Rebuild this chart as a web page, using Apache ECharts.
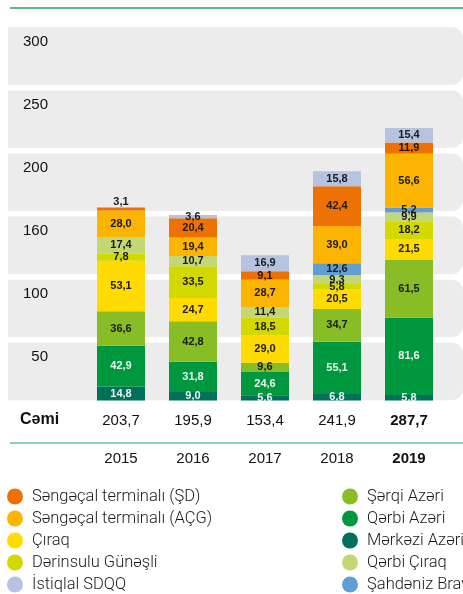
<!DOCTYPE html>
<html lang="az">
<head>
    <meta charset="utf-8">
    <title>Hasilat</title>
    <script src="https://cdn.jsdelivr.net/npm/echarts@6/dist/echarts.min.js"></script>
    <style>
        html, body { margin: 0; padding: 0; background: #fff; }
        #main { width: 463px; height: 594px; }
    </style>
</head>
<body>
<div id="main"></div>

<script type="text/javascript">
    // data
    var years = ['2015', '2016', '2017', '2018', '2019'];
    var totals = [203.7, 195.9, 153.4, 241.9, 287.7];
    var bandLabels = ['50', '100', '160', '200', '250', '300'];

    var merkeziAzeri  = [14.8, 9.0, 5.6, 6.8, 5.8];
    var qerbiAzeri    = [42.9, 31.8, 24.6, 55.1, 81.6];
    var serqiAzeri    = [36.6, 42.8, 9.6, 34.7, 61.5];
    var ciraq         = [53.1, 24.7, 29.0, 20.5, 21.5];
    var derinsulu     = [7.8, 33.5, 18.5, 5.8, 18.2];
    var qerbiCiraq    = [17.4, 10.7, 11.4, 9.3, 9.9];
    var sahdenizBravo = [null, null, null, 12.6, 5.2];
    var sengecalACG   = [28.0, 19.4, 28.7, 39.0, 56.6];
    var sengecalSD    = [3.1, 20.4, 9.1, 42.4, 11.9];
    var istiqlal      = [null, 3.6, 16.9, 15.8, 15.4];

    var fmt = function (v) { return v.toFixed(1).replace('.', ','); };
    var FONT = '"Liberation Sans", Arial, sans-serif';

    // stack order bottom -> top
    var stack = [
        { name: 'Mərkəzi Azəri', data: merkeziAzeri, color: '#00705a', light: true },
        { name: 'Qərbi Azəri', data: qerbiAzeri, color: '#00983f', light: true },
        { name: 'Şərqi Azəri', data: serqiAzeri, color: '#89bd25' },
        { name: 'Çıraq', data: ciraq, color: '#ffdb00' },
        { name: 'Dərinsulu Günəşli', data: derinsulu, color: '#d3d800' },
        { name: 'Qərbi Çıraq', data: qerbiCiraq, color: '#c3d774' },
        { name: 'Şahdəniz Bravo', data: sahdenizBravo, color: '#5f9fd3' },
        { name: 'Səngəçal terminalı (AÇG)', data: sengecalACG, color: '#fbb500' },
        { name: 'Səngəçal terminalı (ŞD)', data: sengecalSD, color: '#ee7203' },
        { name: 'İstiqlal SDQQ', data: istiqlal, color: '#b5c2e0' }
    ];

    var series = [{
        // grey background bands
        type: 'bar',
        xAxisIndex: 1,
        yAxisIndex: 1,
        silent: true,
        z: 1,
        barCategoryGap: '9%',
        data: bandLabels.map(function () { return 1; }),
        itemStyle: { color: '#ececec', borderRadius: [0, 11, 11, 0] },
        label: {
            show: true,
            position: [40, 7],
            align: 'right',
            verticalAlign: 'top',
            formatter: function (p) { return p.name; },
            fontFamily: FONT,
            fontSize: 15,
            color: '#111'
        }
    }];

    stack.forEach(function (s) {
        series.push({
            name: s.name,
            type: 'bar',
            stack: 'total',
            barWidth: 48,
            z: 3,
            itemStyle: { color: s.color },
            label: {
                show: true,
                position: 'inside',
                fontFamily: FONT,
                fontSize: 11,
                fontWeight: 'bold',
                color: s.light ? '#eaf5ee' : '#1a1a1a',
                formatter: function (p) { return fmt(p.value); }
            },
            data: s.data.map(function (v) {
                if (v === null) return '-';
                if (v < 4 && s.name === 'Səngəçal terminalı (ŞD)') {
                    return { value: v, label: { position: 'top', distance: 0 } };
                }
                return v;
            })
        });
    });

    var legendBase = {
        orient: 'vertical',
        top: 488,
        padding: 0,
        height: 110,
        icon: 'circle',
        itemWidth: 16,
        itemHeight: 16,
        itemGap: 5,
        selectedMode: false,
        textStyle: { fontFamily: 'Roboto, sans-serif', fontWeight: 300, fontSize: 16.5, color: '#1a1a1a', padding: [0, 0, 0, 4] }
    };

    var myChart = echarts.init(document.getElementById('main'));

    myChart.setOption({
        animation: false,
        grid: [
            { left: 8, right: 0, top: 24.5, bottom: 191 },
            { left: 85, right: 18, top: 21.5, bottom: 193.5 }
        ],
        xAxis: [{
            type: 'category',
            gridIndex: 1,
            data: years,
            axisLine: { show: false },
            axisTick: { show: false },
            axisLabel: {
                margin: 10,
                interval: 0,
                formatter: function (v, i) {
                    var b = i === years.length - 1 ? 'b' : '';
                    return '{t' + b + '|' + fmt(totals[i]) + '}\n{g|}\n{y' + b + '|' + v + '}';
                },
                rich: {
                    t: { fontFamily: FONT, fontSize: 15, lineHeight: 20, color: '#111' },
                    tb: { fontFamily: FONT, fontSize: 15, lineHeight: 20, color: '#111', fontWeight: 'bold' },
                    g: { lineHeight: 18 },
                    y: { fontFamily: FONT, fontSize: 15, lineHeight: 20, color: '#111' },
                    yb: { fontFamily: FONT, fontSize: 15, lineHeight: 20, color: '#111', fontWeight: 'bold' }
                }
            }
        }, {
            type: 'value',
            gridIndex: 0,
            min: 0,
            max: 1,
            show: false
        }],
        yAxis: [{
            type: 'value',
            gridIndex: 1,
            min: 0,
            max: 400,
            show: false
        }, {
            type: 'category',
            gridIndex: 0,
            data: bandLabels,
            show: false
        }],
        legend: [
            Object.assign({}, legendBase, {
                left: 7,
                data: ['Səngəçal terminalı (ŞD)', 'Səngəçal terminalı (AÇG)', 'Çıraq', 'Dərinsulu Günəşli', 'İstiqlal SDQQ']
            }),
            Object.assign({}, legendBase, {
                left: 342,
                data: ['Şərqi Azəri', 'Qərbi Azəri', 'Mərkəzi Azəri', 'Qərbi Çıraq', 'Şahdəniz Bravo']
            })
        ],
        graphic: [
            { type: 'line', shape: { x1: 10, y1: 8, x2: 463, y2: 8 }, style: { stroke: '#24a466', lineWidth: 1.5 } },
            { type: 'line', shape: { x1: 10, y1: 443, x2: 463, y2: 443 }, style: { stroke: '#86d0ab', lineWidth: 2 } },
            { type: 'text', left: 20, top: 412, style: { text: 'Cəmi', font: 'bold 16px ' + FONT, fill: '#111' } }
        ],
        series: series
    });
</script>
</body>
</html>
